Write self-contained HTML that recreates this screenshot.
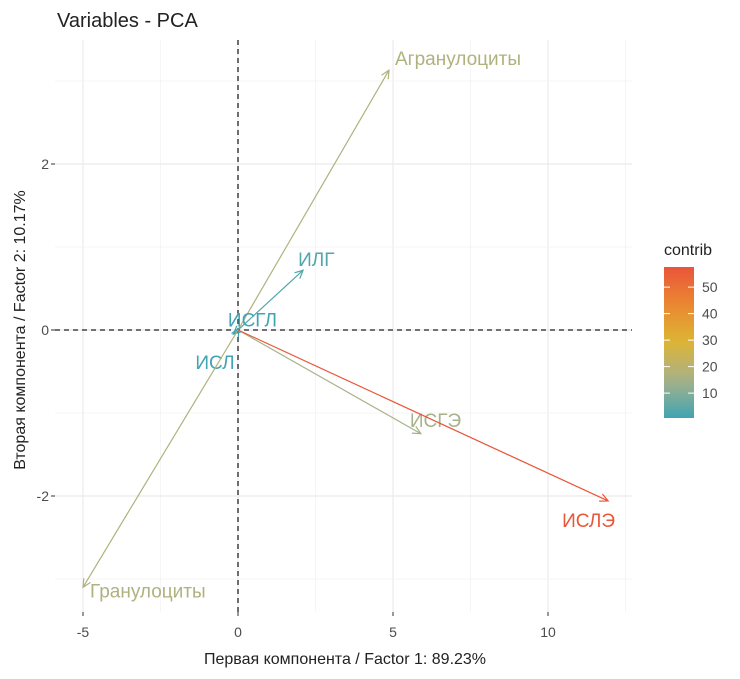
<!DOCTYPE html>
<html><head><meta charset="utf-8"><style>
body{margin:0;background:#fff;width:740px;height:674px;overflow:hidden}
svg{font-family:"Liberation Sans",sans-serif}
</style></head><body>
<svg id="chart" width="740" height="674" xmlns="http://www.w3.org/2000/svg">
<text x="57" y="27" font-size="20" fill="#222">Variables - PCA</text>
<g id="grid"></g><g id="axes"></g><g id="arrows"></g><g id="legend"></g>
<text x="345" y="664" font-size="16" fill="#222" text-anchor="middle">Первая компонента / Factor 1: 89.23%</text>
<text transform="translate(25,330) rotate(-90)" font-size="16" fill="#222" text-anchor="middle">Вторая компонента / Factor 2: 10.17%</text>
</svg>
<script>
const varNames=["Агранулоциты","ИЛГ","ИСГЛ","ИСЛ","ИСГЭ","ИСЛЭ","Гранулоциты"];
const dim1=[4.87,2.1,0.03,-0.15,5.9,11.94,-5.0];
const dim2=[3.13,0.72,0.02,-0.05,-1.25,-2.06,-3.1];
const contrib=[17,3,0.5,0.5,15,57,17];
const xTicks=[-5,0,5,10];
const yTicks=[-2,0,2];
const legendTicks=[10,20,30,40,50];
const ns="http://www.w3.org/2000/svg";
const X=v=>238+31*v, Y=v=>330-83*v;
const PL=55,PR=632,PT=40,PB=612;
function mk(tag,attrs,parent){const e=document.createElementNS(ns,tag);for(const k in attrs)e.setAttribute(k,attrs[k]);parent.appendChild(e);return e;}
const stops=[[0,[60,163,180]],[15,[168,178,138]],[30,[222,180,50]],[45,[235,130,50]],[57.6,[233,85,58]]];
function col(v){for(let i=1;i<stops.length;i++){if(v<=stops[i][0]){const a=stops[i-1],b=stops[i],t=(v-a[0])/(b[0]-a[0]);return "rgb("+a[1].map((c,j)=>Math.round(c+(b[1][j]-c)*t)).join(",")+")";}}return "rgb(233,85,58)";}
const grid=document.getElementById('grid');
for(let v=-5;v<=12.5;v+=2.5){if(X(v)>=PL&&X(v)<=PR){const l=mk('line',{x1:X(v),x2:X(v),y1:PT,y2:PB,stroke:Number.isInteger(v)?'#ebebeb':'#f3f3f3','stroke-width':Number.isInteger(v)?1.2:0.8},grid);}}
for(let v=-3;v<=3;v+=1){const l=mk('line',{x1:PL,x2:PR,y1:Y(v),y2:Y(v),stroke:v%2===0?'#ebebeb':'#f3f3f3','stroke-width':v%2===0?1.2:0.8},grid);}
const axes=document.getElementById('axes');
let l=mk('line',{x1:X(0),x2:X(0),y1:PT,y2:PB,stroke:'#222','stroke-dasharray':'5,4','stroke-width':1.3},axes);

l=mk('line',{x1:PL,x2:PR,y1:Y(0),y2:Y(0),stroke:'#222','stroke-dasharray':'5,4','stroke-width':1.3},axes);

xTicks.forEach(v=>{const t=mk('line',{x1:X(v),x2:X(v),y1:PB,y2:PB+4,stroke:'#333'},axes);
const s=mk('text',{x:X(v),y:PB+25,'font-size':14,fill:'#4d4d4d','text-anchor':'middle'},axes);s.textContent=v;});
yTicks.forEach(v=>{const t=mk('line',{x1:PL-4,x2:PL,y1:Y(v),y2:Y(v),stroke:'#333'},axes);
const s=mk('text',{x:PL-6,y:Y(v)+5,'font-size':14,fill:'#4d4d4d','text-anchor':'end'},axes);s.textContent=v;});
const arrows=document.getElementById('arrows');
const labelOff=[[6,-5],[-5,-4],[-11,-2],[-38,35],[-11,-7],[-46,26],[7,10]];
varNames.forEach((n,i)=>{const c=col(contrib[i]);const x2=X(dim1[i]),y2=Y(dim2[i]);
const g=mk('g',{},arrows);
mk('line',{x1:X(0),y1:Y(0),x2:x2,y2:y2,stroke:c,'stroke-width':1.2},g);
const ang=Math.atan2(y2-Y(0),x2-X(0));const L=9,w=0.45;
mk('polyline',{points:(x2-L*Math.cos(ang-w))+","+(y2-L*Math.sin(ang-w))+" "+x2+","+y2+" "+(x2-L*Math.cos(ang+w))+","+(y2-L*Math.sin(ang+w)),fill:'none',stroke:c,'stroke-width':1.2},g);
const o=labelOff[i];const t=mk('text',{x:x2+o[0],y:y2+o[1],'font-size':19,fill:c},g);t.textContent=n;});
const lg=document.getElementById('legend');
const lt=mk('text',{x:664,y:255,'font-size':16,fill:'#222'},lg);lt.textContent='contrib';
const defs=mk('defs',{},lg);const gr=mk('linearGradient',{id:'cg',x1:0,y1:1,x2:0,y2:0},defs);
const vmin=0.6,vmax=57.6,LB=418,LT=267;
for(let k=0;k<=10;k++){const v=vmin+(vmax-vmin)*k/10;mk('stop',{offset:k/10,'stop-color':col(v)},gr);}
const r=mk('rect',{x:664,y:LT,width:30,height:LB-LT,fill:'url(#cg)'},lg);
const LY=v=>LB-(v-vmin)/(vmax-vmin)*(LB-LT);
legendTicks.forEach(v=>{mk('line',{x1:664,x2:670,y1:LY(v),y2:LY(v),stroke:'#fff','stroke-width':1},lg);mk('line',{x1:688,x2:694,y1:LY(v),y2:LY(v),stroke:'#fff','stroke-width':1},lg);
const t=mk('text',{x:702,y:LY(v)+5,'font-size':14,fill:'#4d4d4d'},lg);t.textContent=v;});
</script>
</body></html>
